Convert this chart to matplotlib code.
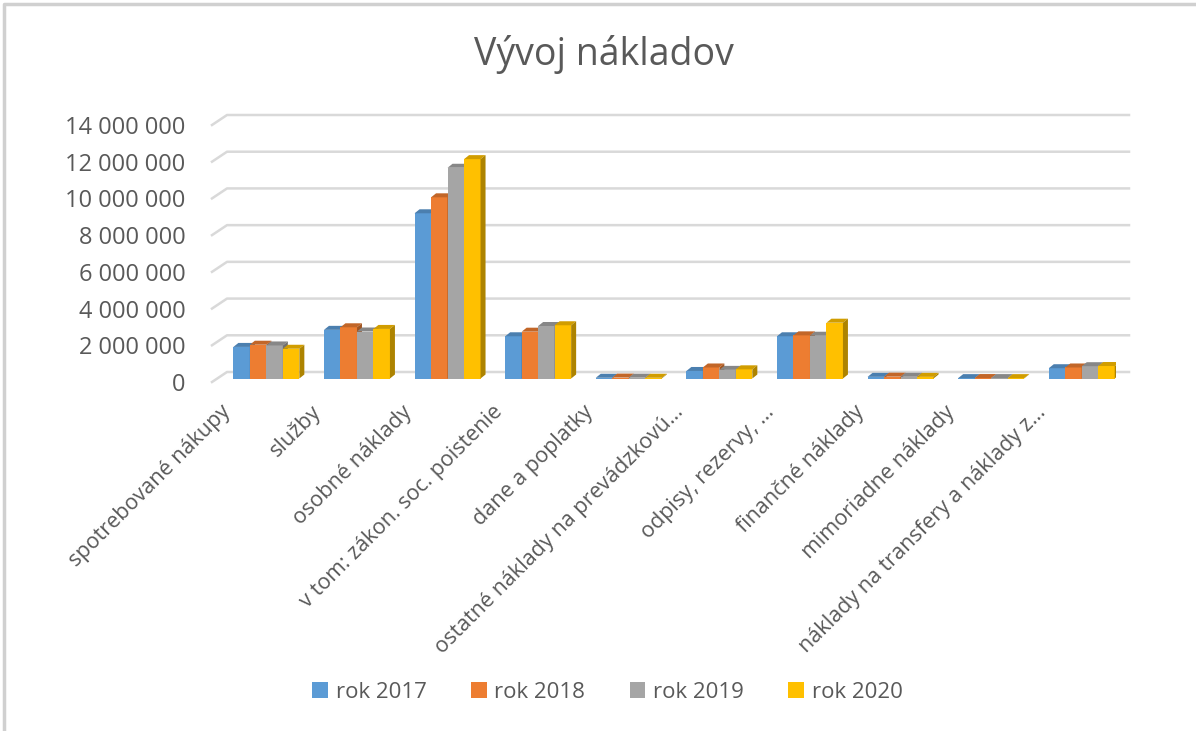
import numpy as np
import matplotlib
matplotlib.use("Agg")
import matplotlib.pyplot as plt
import matplotlib.transforms as mtransforms
from matplotlib.patches import Polygon
from matplotlib.lines import Line2D

# data
kategorie = [
    "spotrebované nákupy",
    "služby",
    "osobné náklady",
    "v tom: zákon. soc. poistenie",
    "dane a poplatky",
    "ostatné náklady na prevádzkovú…",
    "odpisy, rezervy, …",
    "finančné náklady",
    "mimoriadne náklady",
    "náklady na transfery a náklady z…",
]
rok_2017 = [1720000, 2650000, 9000000, 2300000, 40000, 410000, 2300000, 90000, 20000, 560000]
rok_2018 = [1840000, 2790000, 9870000, 2550000, 50000, 600000, 2350000, 100000, 25000, 600000]
rok_2019 = [1800000, 2560000, 11480000, 2860000, 45000, 470000, 2330000, 95000, 22000, 670000]
rok_2020 = [1620000, 2700000, 11950000, 2900000, 40000, 500000, 3040000, 90000, 20000, 680000]
serie = ["rok 2017", "rok 2018", "rok 2019", "rok 2020"]
y_ticks = [0, 2000000, 4000000, 6000000, 8000000, 10000000, 12000000, 14000000]

farby = ["#5B9BD5", "#ED7D31", "#A5A5A5", "#FFC000"]
text_c = "#595959"
grid_c = "#D9D9D9"
DPI = 100

plt.rcParams['font.family'] = ['Open Sans', 'DejaVu Sans']

fig = plt.figure(figsize=(11.96, 7.31), dpi=DPI)
ax = fig.add_axes([212 / 1196, 1 - 382 / 731, 904 / 1196, 257 / 731])
ax.set_xlim(-0.60, -0.60 + 904 / 90.6)
ax.set_ylim(0, 14000000)
for s in ax.spines.values():
    s.set_visible(False)
ax.set_xticks([])
ax.set_yticks(y_ticks)
ax.set_yticklabels([f"{v:,.0f}".replace(",", " ") for v in y_ticks])
ax.tick_params(axis='y', length=0, pad=19, labelsize=17, labelcolor=text_c)
ax.patch.set_alpha(0)

# back-wall gridlines with slanted side wall
DX, DY = 15, 10
fig.canvas.draw()
ident = mtransforms.IdentityTransform()
for v in y_ticks:
    x0, y0 = ax.get_yaxis_transform().transform((0, v))
    x1, _ = ax.get_yaxis_transform().transform((1, v))
    ax.add_line(Line2D([x0, x0 + DX, x1 + DX - 2], [y0, y0 + DY, y0 + DY],
                       transform=ident, color=grid_c, lw=1.8, zorder=0.5, clip_on=False))


def tmavsia(c, k):
    rgb = np.array(matplotlib.colors.to_rgb(c))
    return tuple(rgb * k)


# 3D-ish columns
hodnoty = [rok_2017, rok_2018, rok_2019, rok_2020]
x = np.arange(len(kategorie))
w = 0.182
bdx, bdy = 5, 4
posun = mtransforms.ScaledTranslation(0, 3.5 / DPI, fig.dpi_scale_trans)
for j, (vals, c) in enumerate(zip(hodnoty, farby)):
    pos = x + (j - 1.5) * w
    bars = ax.bar(pos, vals, width=w, color=c, lw=0, zorder=2 + j,
                  transform=ax.transData + posun, label=serie[j])
    for b in bars:
        (bx0, by0), (bx1, by1) = (ax.transData + posun).transform(
            [(b.get_x(), 0), (b.get_x() + b.get_width(), b.get_height())])
        top = Polygon([(bx0, by1), (bx0 + bdx, by1 + bdy), (bx1 + bdx, by1 + bdy), (bx1, by1)],
                      closed=True, transform=ident, color=tmavsia(c, 0.82), lw=0, zorder=2 + j)
        side = Polygon([(bx1, by0), (bx1 + bdx, by0 + bdy), (bx1 + bdx, by1 + bdy), (bx1, by1)],
                       closed=True, transform=ident, color=tmavsia(c, 0.68), lw=0, zorder=2 + j)
        ax.add_patch(top)
        ax.add_patch(side)

# category labels
lab_tr = mtransforms.offset_copy(ax.get_xaxis_transform(), fig=fig, x=-39, y=-27, units='dots')
for i, k in enumerate(kategorie):
    ax.text(i, 0, k, transform=lab_tr, rotation=45, ha='right', va='center',
            rotation_mode='anchor', fontsize=15.5, color=text_c)

fig.text(0.505, 1 - 55 / 731, "Vývoj nákladov", ha='center', va='center',
         fontsize=27, color=text_c)

handles, labels = ax.get_legend_handles_labels()
fig.legend(handles, labels, loc='center', bbox_to_anchor=(0.508, 1 - 692 / 731), ncol=4,
           frameon=False, handlelength=0.7, handleheight=0.7, handletextpad=0.35,
           columnspacing=2.0, fontsize=16, labelcolor=text_c)

# outer chart border (top and left visible)
fig.add_artist(Line2D([4 / 1196, 4 / 1196, 1.0], [0.0, 1 - 4 / 731, 1 - 4 / 731],
                      transform=fig.transFigure, color="#D0D0D0", lw=2.5))

fig.savefig("out.png", dpi=DPI)
